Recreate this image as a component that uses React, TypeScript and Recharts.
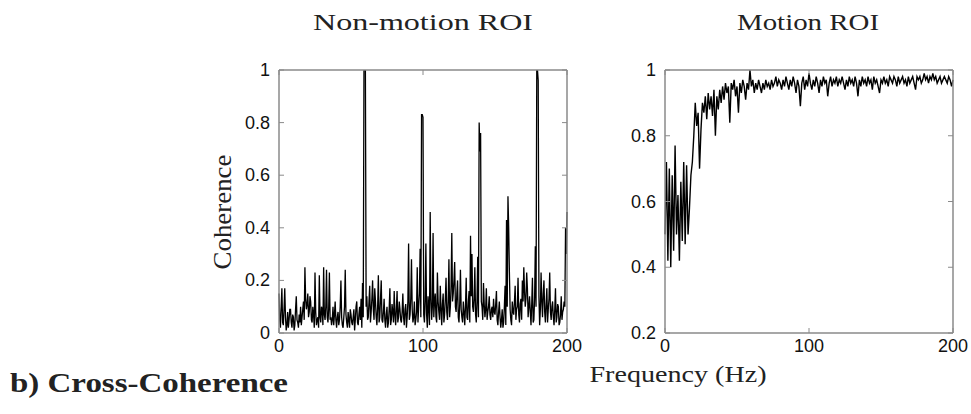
import React from 'react';
import { LineChart, Line, XAxis, YAxis } from 'recharts';

// Non-motion ROI coherence, one value every 0.5 Hz from 0 to 200 Hz
const nonMotionCoherence = [
  0.15, 0.05, 0.02, 0.10, 0.17, 0.04, 0.03, 0.09, 0.17, 0.06,
  0.01, 0.03, 0.08, 0.02, 0.05, 0.09, 0.09, 0.04, 0.02, 0.07,
  0.06, 0.01, 0.03, 0.09, 0.14, 0.05, 0.04, 0.02, 0.07, 0.04,
  0.10, 0.03, 0.06, 0.09, 0.12, 0.05, 0.25, 0.13, 0.09, 0.11,
  0.15, 0.06, 0.08, 0.14, 0.12, 0.05, 0.04, 0.10, 0.07, 0.02,
  0.23, 0.08, 0.03, 0.05, 0.06, 0.02, 0.22, 0.06, 0.04, 0.10,
  0.09, 0.03, 0.25, 0.07, 0.05, 0.10, 0.24, 0.06, 0.04, 0.09,
  0.23, 0.05, 0.06, 0.03, 0.05, 0.10, 0.03, 0.07, 0.12, 0.05,
  0.02, 0.06, 0.08, 0.03, 0.05, 0.10, 0.20, 0.06, 0.03, 0.02,
  0.06, 0.10, 0.24, 0.07, 0.04, 0.02, 0.08, 0.05, 0.02, 0.09,
  0.07, 0.04, 0.03, 0.06, 0.09, 0.01, 0.05, 0.10, 0.12, 0.04,
  0.03, 0.07, 0.10, 0.05, 0.13, 0.02, 0.19, 0.06, 1.00, 1.00,
  1.00, 0.10, 0.14, 0.05, 0.06, 0.12, 0.18, 0.04, 0.08, 0.13,
  0.20, 0.09, 0.05, 0.17, 0.12, 0.06, 0.03, 0.10, 0.22, 0.04,
  0.06, 0.13, 0.20, 0.05, 0.04, 0.08, 0.13, 0.05, 0.02, 0.07,
  0.10, 0.02, 0.04, 0.09, 0.17, 0.03, 0.05, 0.11, 0.08, 0.04,
  0.16, 0.07, 0.03, 0.09, 0.16, 0.04, 0.06, 0.12, 0.09, 0.05,
  0.04, 0.08, 0.15, 0.06, 0.03, 0.09, 0.11, 0.02, 0.06, 0.12,
  0.34, 0.05, 0.07, 0.13, 0.28, 0.09, 0.04, 0.06, 0.12, 0.03,
  0.05, 0.08, 0.25, 0.04, 0.10, 0.15, 0.32, 0.06, 0.83, 0.83,
  0.82, 0.07, 0.04, 0.12, 0.34, 0.07, 0.02, 0.14, 0.10, 0.03,
  0.46, 0.13, 0.05, 0.10, 0.38, 0.06, 0.12, 0.15, 0.06, 0.04,
  0.23, 0.12, 0.08, 0.05, 0.18, 0.09, 0.03, 0.11, 0.15, 0.04,
  0.07, 0.13, 0.21, 0.08, 0.05, 0.12, 0.28, 0.06, 0.10, 0.18,
  0.38, 0.12, 0.15, 0.20, 0.27, 0.10, 0.08, 0.15, 0.20, 0.06,
  0.04, 0.11, 0.24, 0.09, 0.06, 0.04, 0.12, 0.08, 0.03, 0.10,
  0.21, 0.06, 0.05, 0.12, 0.16, 0.04, 0.37, 0.14, 0.30, 0.10,
  0.08, 0.13, 0.25, 0.07, 0.04, 0.12, 0.29, 0.06, 0.80, 0.69,
  0.76, 0.12, 0.10, 0.05, 0.19, 0.11, 0.06, 0.09, 0.17, 0.05,
  0.08, 0.10, 0.14, 0.07, 0.05, 0.09, 0.10, 0.06, 0.13, 0.08,
  0.07, 0.11, 0.16, 0.05, 0.03, 0.08, 0.12, 0.06, 0.02, 0.05,
  0.09, 0.02, 0.04, 0.10, 0.18, 0.03, 0.43, 0.10, 0.52, 0.40,
  0.23, 0.09, 0.05, 0.03, 0.12, 0.08, 0.07, 0.12, 0.18, 0.05,
  0.09, 0.10, 0.21, 0.07, 0.04, 0.11, 0.13, 0.05, 0.20, 0.12,
  0.25, 0.16, 0.10, 0.13, 0.23, 0.17, 0.06, 0.10, 0.14, 0.08,
  0.03, 0.11, 0.21, 0.04, 0.05, 0.13, 0.33, 0.10, 1.00, 1.00,
  0.96, 0.14, 0.03, 0.09, 0.23, 0.12, 0.06, 0.15, 0.20, 0.08,
  0.04, 0.11, 0.17, 0.04, 0.09, 0.13, 0.23, 0.08, 0.05, 0.10,
  0.12, 0.06, 0.03, 0.09, 0.17, 0.04, 0.06, 0.11, 0.10, 0.03,
  0.04, 0.07, 0.14, 0.05, 0.08, 0.09, 0.12, 0.10, 0.40, 0.30,
  0.46,
];

// Motion ROI coherence, one value per Hz from 0 to 200 Hz
const motionCoherence = [
  0.50, 0.72, 0.42, 0.70, 0.40, 0.68, 0.45, 0.77, 0.50, 0.62,
  0.42, 0.66, 0.48, 0.72, 0.47, 0.71, 0.50, 0.58, 0.68, 0.72,
  0.80, 0.90, 0.83, 0.87, 0.70, 0.82, 0.90, 0.87, 0.92, 0.85,
  0.93, 0.88, 0.92, 0.86, 0.94, 0.80, 0.92, 0.88, 0.94, 0.90,
  0.95, 0.91, 0.96, 0.93, 0.95, 0.84, 0.96, 0.94, 0.97, 0.92,
  0.95, 0.87, 0.96, 0.93, 0.97, 0.95, 0.91, 0.96, 0.94, 1.00,
  0.95, 0.97, 0.93, 0.96, 0.94, 0.97, 0.95, 0.93, 0.96, 0.94,
  0.97, 0.95, 0.96, 0.94, 0.97, 0.95, 0.96, 0.98, 0.95, 0.97,
  0.96, 0.94, 0.97, 0.95, 0.98, 0.96, 0.94, 0.97, 0.95, 0.98,
  0.96, 0.93, 0.97, 0.95, 0.89, 0.96, 0.98, 0.94, 0.97, 0.95,
  0.99, 0.96, 0.94, 0.97, 0.95, 0.98, 0.96, 0.93, 0.97, 0.95,
  0.98, 0.96, 0.97, 0.92, 0.96, 0.98, 0.95, 0.97, 0.96, 0.98,
  0.95, 0.97, 0.96, 0.98, 0.96, 0.94, 0.97, 0.95, 0.98, 0.96,
  0.97, 0.95, 0.98, 0.96, 0.92, 0.97, 0.95, 0.98, 0.96, 0.97,
  0.95, 0.98, 0.96, 0.97, 0.94, 0.98, 0.96, 0.97, 0.95, 0.93,
  0.97, 0.96, 0.98, 0.96, 0.97, 0.95, 0.98, 0.97, 0.96, 0.98,
  0.97, 0.95, 0.98, 0.96, 0.97, 0.98, 0.96, 0.97, 0.95, 0.98,
  0.96, 0.97, 0.98, 0.96, 0.94, 0.98, 0.97, 0.98, 0.96, 0.97,
  0.99, 0.97, 0.98, 0.96, 0.98, 0.97, 0.99, 0.97, 0.98, 0.96,
  0.97, 0.98, 0.96, 0.97, 0.98, 0.97, 0.96, 0.98, 0.97, 0.95,
  0.97,
];

const nonMotionStepHz = 0.5;
const motionStepHz = 1;
const xTicks = [0, 100, 200];
const leftYTicks = [0, 0.2, 0.4, 0.6, 0.8, 1];
const rightYTicks = [0.2, 0.4, 0.6, 0.8, 1];

const leftTitle = 'Non-motion ROI';
const rightTitle = 'Motion ROI';
const yLabel = 'Coherence';
const xLabel = 'Frequency (Hz)';
const panelLabel = 'b) Cross-Coherence';

const toRows = (vals: number[], step: number) => vals.map((v, i) => ({ f: i * step, v }));
const leftRows = toRows(nonMotionCoherence, nonMotionStepHz);
const rightRows = toRows(motionCoherence, motionStepHz);

const BOX = '#8a8a8a';
const TICK_FONT = '"Liberation Sans", Arial, sans-serif';
const SERIF = '"Liberation Serif", "Times New Roman", serif';
const TL = 5;
const TICK_SIZE = 18;

const fmt = (v: number) => (v === 0 ? '0' : v === 1 ? '1' : String(v));

const LeftTick = (p: any) => (
  <g>
    <line x1={p.x} x2={p.x + TL} y1={p.y} y2={p.y} stroke={BOX} strokeWidth={1} />
    <text x={p.x - 9} y={p.y} textAnchor="end" dominantBaseline="central" fontFamily={TICK_FONT} fontSize={TICK_SIZE} fill="#111">
      {fmt(p.payload.value)}
    </text>
  </g>
);
const RightTick = (p: any) => (
  <line x1={p.x - TL} x2={p.x} y1={p.y} y2={p.y} stroke={BOX} strokeWidth={1} />
);
const BottomTick = (p: any) => (
  <g>
    <line x1={p.x} x2={p.x} y1={p.y} y2={p.y - TL} stroke={BOX} strokeWidth={1} />
    <text x={p.x} y={p.y + 19} textAnchor="middle" fontFamily={TICK_FONT} fontSize={TICK_SIZE} fill="#111">
      {fmt(p.payload.value)}
    </text>
  </g>
);
const TopTick = (p: any) => (
  <line x1={p.x} x2={p.x} y1={p.y} y2={p.y + TL} stroke={BOX} strokeWidth={1} />
);

function Panel({ rows, yDomain, yTicks, width, margin, strokeWidth }: any) {
  const axisLine = { stroke: BOX, strokeWidth: 1.5 };
  return (
    <LineChart width={width} height={414} data={rows} margin={margin}>
      <XAxis xAxisId="b" dataKey="f" type="number" domain={[0, 200]} ticks={xTicks} orientation="bottom"
        height={1} tickSize={0} tickMargin={0} axisLine={axisLine} tickLine={false} tick={<BottomTick />} interval={0} />
      <XAxis xAxisId="t" dataKey="f" type="number" domain={[0, 200]} ticks={xTicks} orientation="top"
        height={1} tickSize={0} tickMargin={0} axisLine={axisLine} tickLine={false} tick={<TopTick />} interval={0} />
      <YAxis yAxisId="l" type="number" domain={yDomain} ticks={yTicks} orientation="left" allowDataOverflow
        width={1} tickSize={0} tickMargin={0} axisLine={axisLine} tickLine={false} tick={<LeftTick />} interval={0} />
      <YAxis yAxisId="r" type="number" domain={yDomain} ticks={yTicks} orientation="right" allowDataOverflow
        width={1} tickSize={0} tickMargin={0} axisLine={axisLine} tickLine={false} tick={<RightTick />} interval={0} />
      <Line xAxisId="b" yAxisId="l" dataKey="v" type="linear" stroke="#000" strokeWidth={strokeWidth}
        dot={false} isAnimationActive={false} />
    </LineChart>
  );
}

export default function App() {
  return (
    <div style={{ position: 'absolute', left: 0, top: 0, width: 971, height: 414, background: '#fff', overflow: 'hidden' }}>
      <div style={{ position: 'absolute', left: 0, top: 0 }}>
        <Panel rows={leftRows} yDomain={[0, 1]} yTicks={leftYTicks} width={600} strokeWidth={1.3}
          margin={{ top: 69, left: 278, right: 32, bottom: 80 }} />
      </div>
      <div style={{ position: 'absolute', left: 600, top: 0 }}>
        <Panel rows={rightRows} yDomain={[0.2, 1]} yTicks={rightYTicks} width={371} strokeWidth={1.4}
          margin={{ top: 69, left: 64, right: 17, bottom: 80 }} />
      </div>
      <svg width={971} height={414} style={{ position: 'absolute', left: 0, top: 0, pointerEvents: 'none' }}>
        <text x={423} y={30} textAnchor="middle" fontFamily={SERIF} fontSize={23} fill="#222"
          textLength={220} lengthAdjust="spacingAndGlyphs">{leftTitle}</text>
        <text x={808} y={30} textAnchor="middle" fontFamily={SERIF} fontSize={23} fill="#222"
          textLength={142} lengthAdjust="spacingAndGlyphs">{rightTitle}</text>
        <text x={231} y={212} textAnchor="middle" fontFamily={SERIF} fontSize={26} fill="#222"
          transform="rotate(-90 231 212)" textLength={115} lengthAdjust="spacingAndGlyphs">{yLabel}</text>
        <text x={678} y={382} textAnchor="middle" fontFamily={SERIF} fontSize={24} fill="#222"
          textLength={177} lengthAdjust="spacingAndGlyphs">{xLabel}</text>
        <text x={10} y={392} textAnchor="start" fontFamily={SERIF} fontWeight="bold" fontSize={27} fill="#222"
          textLength={278} lengthAdjust="spacingAndGlyphs">{panelLabel}</text>
      </svg>
    </div>
  );
}
